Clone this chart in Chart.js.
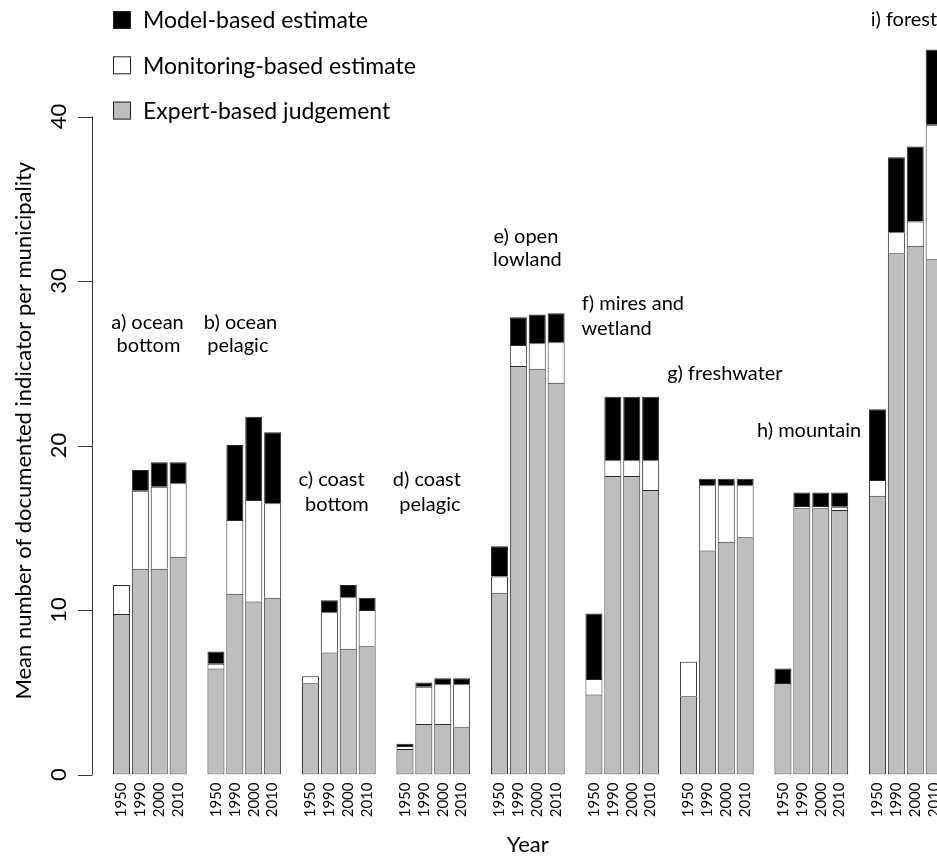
<!DOCTYPE html>
<html><head><meta charset="utf-8">
<script src="https://cdn.jsdelivr.net/npm/chart.js@4.4.1/dist/chart.umd.min.js"></script>
<style>html,body{margin:0;padding:0;overflow:hidden;background:#fff;width:937px;height:858px}#wrap{width:946px;height:858px;position:relative}canvas{display:block}</style>
</head><body><div id="wrap"><canvas id="c" width="946" height="858" style="width:946px;height:858px"></canvas></div>
<script>
// ---------- data ----------
const groups = ['a','b','c','d','e','f','g','h','i'];
const years = ['1950','1990','2000','2010'];
const groupLabels = [
  ['a) ocean','bottom'], ['b) ocean','pelagic'], ['c) coast','bottom'], ['d) coast','pelagic'],
  ['e) open','lowland'], ['f) mires and','wetland'], ['g) freshwater'], ['h) mountain'], ['i) forest']
];
const seriesNames = ['Expert-based judgement','Monitoring-based estimate','Model-based estimate'];
const expert = [
  9.76, 12.51, 12.51, 13.24,
  6.45, 10.99, 10.51, 10.75,
  5.54, 7.41, 7.65, 7.79,
  1.55, 3.07, 3.07, 2.87,
  11.05, 24.83, 24.67, 23.82,
  4.87, 18.15, 18.15, 17.29,
  4.75, 13.61, 14.15, 14.42,
  5.56, 16.18, 16.18, 16.08,
  16.95, 31.68, 32.15, 31.32
];
const monitoring = [
  1.76, 4.74, 4.99, 4.46,
  0.29, 4.48, 6.18, 5.74,
  0.43, 2.45, 3.12, 2.21,
  0.18, 2.27, 2.41, 2.61,
  0.98, 1.28, 1.54, 2.45,
  0.93, 0.95, 0.95, 1.81,
  2.11, 3.97, 3.43, 3.16,
  0, 0.14, 0.14, 0.20,
  0.95, 1.28, 1.46, 8.18
];
const model = [
  0, 1.26, 1.48, 1.28,
  0.73, 4.56, 5.06, 4.31,
  0, 0.73, 0.75, 0.75,
  0.14, 0.26, 0.37, 0.37,
  1.84, 1.68, 1.76, 1.77,
  3.98, 3.87, 3.87, 3.87,
  0, 0.40, 0.40, 0.40,
  0.89, 0.83, 0.83, 0.87,
  4.30, 4.56, 4.56, 4.58
];
const yTicks = [0, 10, 20, 30, 40];

// ---------- layout (annotation placement in data units) ----------
const labelPlace = [
  {x:[1.38,1.43], y:[27.5,26.05]},
  {x:[6.30,6.16], y:[27.5,26.05]},
  {x:[11.12,11.40], y:[17.9,16.44]},
  {x:[16.16,16.32], y:[17.9,16.44]},
  {x:[21.40,21.48], y:[32.69,31.28]},
  {x:[27.06,26.20], y:[28.6,27.12]},
  {x:[31.93], y:[24.39]},
  {x:[36.38], y:[20.88]},
  {x:[41.40], y:[45.9]}
];
const FONT = 'Lato';
const colors = {expert:'#BEBEBE', monitoring:'#FFFFFF', model:'#000000'};

// ---------- build ----------
const labels = [];
groups.forEach((g, gi) => { if (gi > 0) labels.push(''); years.forEach(y => labels.push(y)); });
function expand(arr) {
  const out = [];
  groups.forEach((g, gi) => {
    if (gi > 0) out.push(null);
    for (let k = 0; k < years.length; k++) { const v = arr[gi * years.length + k]; out.push(v > 0 ? v : null); }
  });
  return out;
}
const common = {borderColor:'#2a2a2a', borderWidth:1, barPercentage:0.9, categoryPercentage:1.0};
const datasets = [
  Object.assign({label:seriesNames[0], data:expand(expert), backgroundColor:colors.expert, borderSkipped:false}, common),
  Object.assign({label:seriesNames[1], data:expand(monitoring), backgroundColor:colors.monitoring, borderSkipped:'start'}, common),
  Object.assign({label:seriesNames[2], data:expand(model), backgroundColor:colors.model, borderSkipped:'start'}, common)
];

const decor = {
  id:'decor',
  afterDraw(chart) {
    const ctx = chart.ctx, ys = chart.scales.y, xs = chart.scales.x, ca = chart.chartArea;
    ctx.save();
    ctx.fillStyle = '#000'; ctx.strokeStyle = '#333'; ctx.lineWidth = 1;
    // y axis (R style)
    const ax = Math.round(ca.left - 20.5) + 0.5;
    ctx.beginPath();
    ctx.moveTo(ax, ys.getPixelForValue(yTicks[0]));
    ctx.lineTo(ax, ys.getPixelForValue(yTicks[yTicks.length - 1]));
    yTicks.forEach(t => { const py = Math.round(ys.getPixelForValue(t)) + 0.5; ctx.moveTo(ax, py); ctx.lineTo(ax - 14.5, py); });
    ctx.stroke();
    ctx.font = '22px ' + FONT; ctx.textAlign = 'center'; ctx.textBaseline = 'middle';
    yTicks.forEach(t => {
      ctx.save(); ctx.translate(ax - 34, ys.getPixelForValue(t)); ctx.rotate(-Math.PI / 2);
      ctx.fillText(String(t), 0, 0); ctx.restore();
    });
    // y title
    ctx.save(); ctx.translate(24, ys.getPixelForValue(20.9)); ctx.rotate(-Math.PI / 2);
    ctx.font = '22px ' + FONT;
    ctx.fillText('Mean number of documented indicator per municipality', 0, 0); ctx.restore();
    // legend
    const legendOrder = [2, 1, 0];
    ctx.font = '23px ' + FONT; ctx.textAlign = 'left';
    legendOrder.forEach((di, k) => {
      const ds = chart.data.datasets[di];
      const cy = 20 + k * 45.3;
      ctx.fillStyle = ds.backgroundColor; ctx.fillRect(ca.left + 1, cy - 9, 18, 18);
      ctx.strokeStyle = '#222'; ctx.strokeRect(ca.left + 1.5, cy - 8.5, 17, 17);
      ctx.fillStyle = '#000'; ctx.fillText(ds.label, ca.left + 31, cy + 1);
    });
    // group labels
    ctx.font = '20px ' + FONT; ctx.textAlign = 'center';
    groupLabels.forEach((lines, gi) => {
      lines.forEach((txt, li) => {
        ctx.fillText(txt, xs.getPixelForValue(labelPlace[gi].x[li]), ys.getPixelForValue(labelPlace[gi].y[li]));
      });
    });
    ctx.restore();
  }
};

new Chart(document.getElementById('c'), {
  type:'bar',
  data:{labels, datasets},
  options:{
    responsive:false, animation:false, devicePixelRatio:1,
    layout:{padding:{left:112, right:2.4, top:17.8, bottom:0}},
    plugins:{legend:{display:false}, tooltip:{enabled:false}},
    scales:{
      x:{
        stacked:true,
        grid:{display:false, drawTicks:false}, border:{display:false},
        ticks:{autoSkip:false, maxRotation:90, minRotation:90, padding:8, color:'#000', font:{family:FONT, size:15}},
        title:{display:true, text:'Year', color:'#000', font:{family:FONT, size:22}, padding:{top:0, bottom:0}},
        afterFit(s){ s.height = 83.5; s.paddingLeft = 0; s.paddingRight = 0; }
      },
      y:{stacked:true, display:false, min:0, max:46}
    }
  },
  plugins:[decor]
});
</script></body></html>
